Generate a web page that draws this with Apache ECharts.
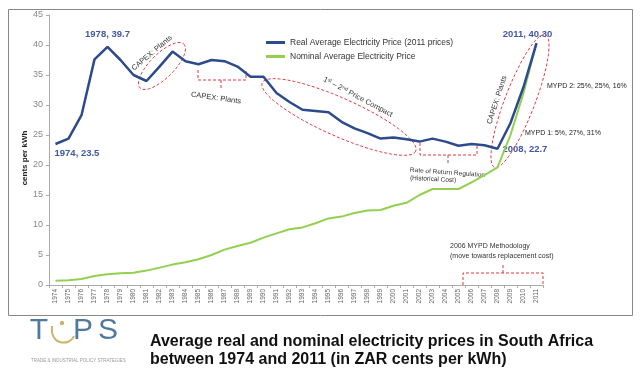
<!DOCTYPE html>
<html><head><meta charset="utf-8">
<script src="https://cdn.jsdelivr.net/npm/echarts@6/dist/echarts.min.js"></script>
<style>html,body{margin:0;padding:0;background:#fff}#c{width:640px;height:373px}</style>
</head><body><div id="c"></div>
<script>
const years = ['1974','1975','1976','1977','1978','1979','1980','1981','1982','1983','1984','1985','1986','1987','1988','1989','1990','1991','1992','1993','1994','1995','1996','1997','1998','1999','2000','2001','2002','2003','2004','2005','2006','2007','2008','2009','2010','2011'];
const realPrice = [23.5,24.4,28.3,37.6,39.7,37.5,35.0,34.0,36.4,38.9,37.3,36.8,37.5,37.3,36.4,34.7,34.7,32.0,30.5,29.2,29.0,28.8,27.2,26.1,25.3,24.4,24.6,24.3,23.9,24.4,23.9,23.2,23.5,23.3,22.7,27.0,33.0,40.3];
const nominalPrice = [0.7,0.8,1.0,1.5,1.8,1.95,2.05,2.4,2.9,3.4,3.8,4.3,5.0,5.9,6.5,7.05,7.9,8.6,9.3,9.6,10.3,11.1,11.4,12.0,12.4,12.5,13.2,13.7,15.0,16.0,16.0,16.0,17.1,18.3,19.6,25.0,32.0,40.3];
const seriesNames = ['Real Average Electricity Price (2011 prices)','Nominal Average Electricity Price'];
const yMin = 0, yMax = 45, yStep = 5;
const callouts = [
  {i:0, text:'1974, 23.5'},
  {i:4, text:'1978, 39.7'},
  {i:34, text:'2008, 22.7'},
  {i:37, text:'2011, 40.30'}
];

const FONT = "'Liberation Sans', Arial, sans-serif";
const chart = echarts.init(document.getElementById('c'));
chart.setOption({
  animation:false,
  grid:{left:49, right:97, top:15, bottom:88},
  legend:{left:261, top:33, orient:'vertical', icon:'rect', itemWidth:19, itemHeight:3, itemGap:5,
    textStyle:{fontSize:8.5, color:'#333', fontFamily:FONT}, data:seriesNames},
  xAxis:{type:'category', data:years, boundaryGap:true,
    axisLine:{lineStyle:{color:'#aaa'}},
    axisTick:{show:true, length:3, lineStyle:{color:'#aaa'}},
    axisLabel:{rotate:90, interval:0, fontSize:6.5, color:'#666', margin:4, fontFamily:FONT}},
  yAxis:{type:'value', min:yMin, max:yMax, interval:yStep,
    splitLine:{show:false},
    axisLine:{show:true, lineStyle:{color:'#aaa'}},
    axisTick:{show:true, length:3, lineStyle:{color:'#aaa'}},
    axisLabel:{fontSize:9, color:'#888', margin:6, fontFamily:FONT}},
  series:[
    {name:seriesNames[0], type:'line', data:realPrice, showSymbol:false, symbol:'none',
      lineStyle:{color:'#2d4a8c', width:2.5}, itemStyle:{color:'#2d4a8c'}, z:3},
    {name:seriesNames[1], type:'line', data:nominalPrice, showSymbol:false, symbol:'none',
      lineStyle:{color:'#92d050', width:2}, itemStyle:{color:'#92d050'}, z:2}
  ]
});

const RED = '#e0383c';
function ellipse(cx, cy, rx, ry, deg){
  const a = deg*Math.PI/180, pts = [];
  for(let k=0;k<96;k++){
    const t = k/96*2*Math.PI, x = rx*Math.cos(t), y = ry*Math.sin(t);
    pts.push([cx + x*Math.cos(a) - y*Math.sin(a), cy + x*Math.sin(a) + y*Math.cos(a)]);
  }
  return {type:'polygon', silent:true, shape:{points:pts}, style:{fill:'none', stroke:RED, lineWidth:1, lineDash:[3,2]}};
}
function pl(points){
  return {type:'polyline', silent:true, shape:{points:points}, style:{fill:'none', stroke:RED, lineWidth:1, lineDash:[3,2]}};
}
function txt(x, y, text, opt){
  opt = opt || {};
  return {type:'text', silent:true, x:x, y:y, rotation:(opt.rot||0)*Math.PI/180,
    style:{text:text, fill:opt.color||'#333', font:opt.font||("7px "+FONT),
      textAlign:opt.align||'center', textVerticalAlign:'middle', align:opt.align||'center', verticalAlign:'middle', rich:opt.rich}};
}

const g = [];
g.push({type:'rect', silent:true, shape:{x:8.5, y:9.5, width:624, height:306}, style:{fill:'none', stroke:'#888', lineWidth:1}});
// y axis name
g.push(txt(25, 158, 'cents per kWh', {rot:90, font:"bold 8px "+FONT, color:'#222'}));
// callout labels
const offs = [[-1,9,'left'],[0,-12,'center'],[5,1,'left'],[-9,-9,'center']];
callouts.forEach((c,k)=>{
  const p = chart.convertToPixel({xAxisIndex:0, yAxisIndex:0}, [years[c.i], realPrice[c.i]]);
  g.push(txt(p[0]+offs[k][0], p[1]+offs[k][1], c.text, {font:"bold 9.5px "+FONT, color:'#4257a5', align:offs[k][2]}));
});
// annotations
g.push(ellipse(162, 66, 31, 12, -45));
g.push(txt(152, 53, 'CAPEX: Plants', {rot:40, font:"7.5px "+FONT}));
g.push(pl([[198,70],[198,80],[246,80],[246,71]]));
g.push(pl([[221,80],[221,88]]));
g.push(txt(216, 98, 'CAPEX: Plants', {rot:-8, font:"7.5px "+FONT}));
g.push(ellipse(339, 117, 84, 19, 24));
g.push(txt(358, 97, '1{s|st} – 2{s|nd} Price Compact', {rot:-28, font:"7.5px "+FONT,
  rich:{s:{fontSize:5, verticalAlign:'top', fill:'#333', fontFamily:FONT}}}));
g.push(pl([[420,143],[420,155],[477,155],[477,145]]));
g.push(pl([[448,155],[448,163]]));
g.push(txt(410, 170, 'Rate of Return Regulation', {rot:-4, font:"6.5px "+FONT, align:'left'}));
g.push(txt(410, 178, '(Historical Cost)', {rot:-3, font:"6.5px "+FONT, align:'left'}));
g.push(ellipse(520, 101, 71, 15, -69));
g.push(txt(497, 100, 'CAPEX: Plants', {rot:72, font:"7.5px "+FONT}));
g.push(txt(547, 86, 'MYPD 2: 25%, 25%, 16%', {font:"7px "+FONT, align:'left', color:'#222'}));
g.push(txt(525, 133, 'MYPD 1: 5%, 27%, 31%', {font:"7px "+FONT, align:'left', color:'#222'}));
g.push(pl([[463,285],[463,273],[543,273],[543,285]]));
g.push(pl([[503,273],[503,263]]));
g.push(txt(450, 246, '2006 MYPD Methodology', {font:"7px "+FONT, align:'left'}));
g.push(txt(450, 256, '(move towards replacement cost)', {font:"7px "+FONT, align:'left'}));
// title
g.push(txt(150, 342, 'Average real and nominal electricity prices in South Africa', {font:"bold 16px "+FONT, align:'left', color:'#111'}));
g.push(txt(150, 360, 'between 1974 and 2011 (in ZAR cents per kWh)', {font:"bold 16px "+FONT, align:'left', color:'#111'}));
// logo
const LOGO = '#4f7a9c';
g.push(txt(39, 331, 'T', {font:"30px "+FONT, color:LOGO}));
g.push(txt(83, 331, 'P', {font:"30px "+FONT, color:LOGO}));
g.push(txt(108, 331, 'S', {font:"30px "+FONT, color:LOGO}));
g.push({type:'bezierCurve', silent:true, shape:{x1:52, y1:326, cpx1:50, cpy1:346, cpx2:70, cpy2:346, x2:74, y2:336},
  style:{fill:'none', stroke:'#c9b46a', lineWidth:2}});
g.push({type:'circle', silent:true, shape:{cx:62, cy:323, r:2.2}, style:{fill:'#c9b46a'}});
g.push(txt(31, 361, 'TRADE & INDUSTRIAL POLICY STRATEGIES', {font:"4.5px "+FONT, color:'#999', align:'left'}));
chart.setOption({graphic:g});
</script></body></html>
